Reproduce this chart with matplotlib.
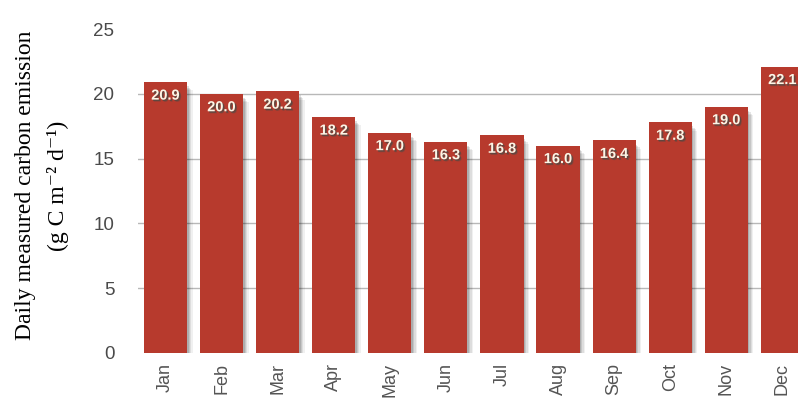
import matplotlib.pyplot as plt
import matplotlib.patheffects as pe

months = ["Jan", "Feb", "Mar", "Apr", "May", "Jun",
          "Jul", "Aug", "Sep", "Oct", "Nov", "Dec"]
emission = [20.9, 20.0, 20.2, 18.2, 17.0, 16.3, 16.8, 16.0, 16.4, 17.8, 19.0, 22.1]
y_ticks = [0, 5, 10, 15, 20, 25]

bar_color = "#b73a2d"
tick_color = "#4a4a4a"

fig = plt.figure(figsize=(7.98, 3.99), dpi=100)
ax = fig.add_axes([0.173, 0.1153, 0.827, 0.812])

x = list(range(len(months)))
bars = ax.bar(x, emission, width=0.77, color=bar_color, zorder=3)

# soft drop shadow: a few faint offset copies stacked under each bar
shadow = [pe.SimplePatchShadow(offset=(dx, -dy), shadow_rgbFace="#000000", alpha=a)
          for dx, dy, a in [(4, 6, 0.06), (3, 5, 0.08), (2, 4, 0.10), (1, 3, 0.12), (0, 1, 0.12)]]
for b in bars:
    b.set_path_effects(shadow + [pe.Normal()])

# value labels inside the top of each bar
for xi, v in zip(x, emission):
    ax.text(xi, v - 0.5, f"{v:.1f}", ha="center", va="top", color="#fbf5e6",
            fontsize=10.5, fontweight="bold", family="Liberation Sans", zorder=4,
            path_effects=[pe.SimplePatchShadow(offset=(1, -1), alpha=0.7),
                          pe.withSimplePatchShadow(offset=(1.5, -1.5), alpha=0.35)])

ax.set_xlim(-0.49, 11.28)
ax.set_ylim(0, 25)
ax.set_yticks(y_ticks)
ax.set_xticks(x)
ax.set_xticklabels(months, rotation=90)

for yv in [5, 10, 15, 20]:
    ax.axhline(yv, color="#b8b8b8", lw=1, zorder=1)

for s in ax.spines.values():
    s.set_visible(False)
ax.tick_params(axis="y", length=0, labelcolor=tick_color, labelsize=13.5, pad=17)
ax.tick_params(axis="x", length=0, labelcolor="#555555", labelsize=13, pad=7)
for lab in ax.get_yticklabels() + ax.get_xticklabels():
    lab.set_fontfamily("Liberation Sans")

fig.text(0.032, 0.535, "Daily measured carbon emission", rotation=90,
         ha="center", va="center", fontsize=17, family="Liberation Serif")
fig.text(0.073, 0.535, "(g C m\u207b\u00b2 d\u207b\u00b9)", rotation=90,
         ha="center", va="center", fontsize=17,
         family=["Liberation Serif", "DejaVu Serif"])

fig.savefig("out.png", dpi=100)
